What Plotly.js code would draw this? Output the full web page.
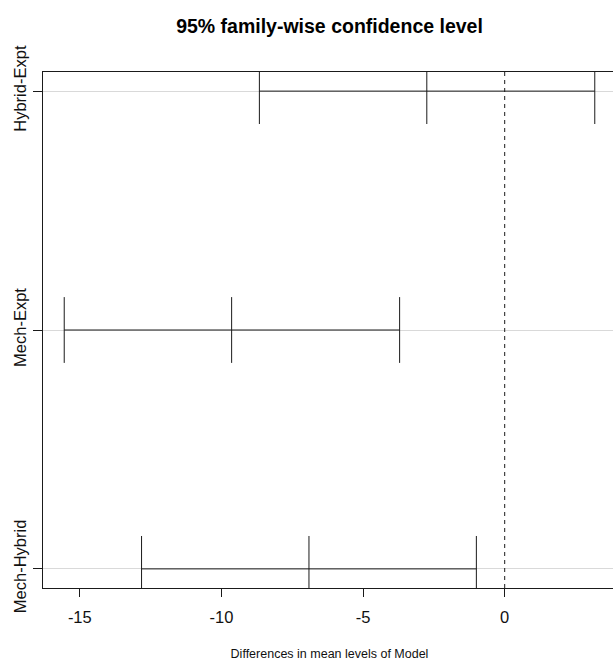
<!DOCTYPE html>
<html>
<head>
<meta charset="utf-8">
<script src="https://cdn.plot.ly/plotly-3.0.1.min.js"></script>
<style>
html, body { margin: 0; padding: 0; width: 613px; height: 661px; overflow: hidden; background: #fff; }
#chart { width: 640px; height: 661px; }
</style>
</head>
<body>
<div id="chart"></div>
<script>
// Comparisons (bottom to top), as in R's plot(TukeyHSD(...))
const comparisons = ["Mech-Hybrid", "Mech-Expt", "Hybrid-Expt"];
const diffValues = [-6.91, -9.64, -2.75];
const lowerValues = [-12.82, -15.55, -8.66];
const upperValues = [-1.00, -3.71, 3.18];
const xTickValues = [-15, -10, -5, 0];
const xTickLabels = ["-15", "-10", "-5", "0"];

const positions = comparisons.map((_, i) => i + 1);

// horizontal interval segments
const segX = [], segY = [];
positions.forEach((p, i) => {
  segX.push(lowerValues[i], upperValues[i], null);
  segY.push(p, p, null);
});

// "|" marks at lwr, diff, upr
const markX = [], markY = [];
positions.forEach((p, i) => {
  markX.push(lowerValues[i], diffValues[i], upperValues[i]);
  markY.push(p, p, p);
});

// R-like axis limits: 4% extension
const allX = lowerValues.concat(upperValues);
const xmin = Math.min(...allX), xmax = Math.max(...allX);
const xpad = (xmax - xmin) * 0.04;
const ypad = (positions.length - 1) * 0.04;

const lineColor = "#1a1a1a";
const fontFam = "Liberation Sans, Arial, sans-serif";

const traces = [
  {
    x: segX, y: segY, type: "scatter", mode: "lines",
    line: { color: lineColor, width: 1 }, hoverinfo: "skip", showlegend: false
  },
  {
    x: markX, y: markY, type: "scatter", mode: "markers",
    marker: { symbol: "line-ns", size: 47, color: lineColor, line: { color: lineColor, width: 1 } },
    cliponaxis: true, hoverinfo: "skip", showlegend: false
  }
];

const layout = {
  width: 640, height: 661,
  margin: { l: 43, r: 24, t: 72, b: 73, pad: 0 },
  paper_bgcolor: "#ffffff", plot_bgcolor: "#ffffff",
  font: { family: fontFam, size: 13, color: "#111" },
  title: {
    text: "<b>95% family-wise confidence level</b>",
    font: { family: fontFam, size: 19.5, color: "#000" },
    xref: "paper", x: 0.5, xanchor: "center",
    yref: "container", y: 1 - 26 / 661, yanchor: "middle"
  },
  xaxis: {
    range: [xmin - xpad, xmax + xpad],
    tickvals: xTickValues, ticktext: xTickLabels,
    ticks: "outside", ticklen: 8, tickwidth: 1, tickcolor: lineColor,
    ticklabelstandoff: 6,
    showgrid: false, zeroline: false,
    showline: true, mirror: true, linecolor: lineColor, linewidth: 1,
    tickfont: { family: fontFam, size: 16.5, color: "#111" },
    title: { text: "Differences in mean levels of Model", font: { family: fontFam, size: 12.5, color: "#111" }, standoff: 27 }
  },
  yaxis: {
    range: [1 - ypad, positions.length + ypad],
    tickvals: positions, ticktext: comparisons,
    tickangle: -90,
    ticks: "outside", ticklen: 9, tickwidth: 1, tickcolor: lineColor,
    showgrid: true, gridcolor: "#d9d9d9", gridwidth: 1,
    zeroline: false,
    showline: true, mirror: true, linecolor: lineColor, linewidth: 1,
    tickfont: { family: fontFam, size: 16.5, color: "#111" }
  },
  shapes: [
    {
      type: "line", xref: "x", yref: "paper", x0: 0, x1: 0, y0: 0, y1: 1,
      line: { color: lineColor, width: 1, dash: "4px,4px" }, layer: "above"
    }
  ]
};

Plotly.newPlot("chart", traces, layout, { displayModeBar: false, staticPlot: true });
</script>
</body>
</html>
